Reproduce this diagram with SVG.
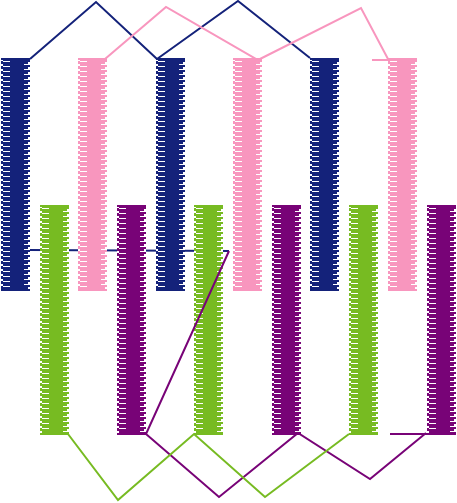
<svg xmlns="http://www.w3.org/2000/svg" width="457" height="503" viewBox="0 0 457 503">
<style>
.navy{fill:#14227a}.pink{fill:#f896be}.green{fill:#77bb22}.purple{fill:#780377}
.gl{stroke:#fff;stroke-width:7;stroke-dasharray:1 4}
.gr{stroke:#fff;stroke-width:6;stroke-dasharray:1 4;stroke-dashoffset:2}
.el{stroke:#fff;stroke-width:2;stroke-dasharray:2 3;stroke-dashoffset:1}
.er{stroke:#fff;stroke-width:2;stroke-dasharray:2 3;stroke-dashoffset:3}
.c{fill:none;stroke-width:2;stroke-linejoin:miter}
</style>
<defs>
<g id="gapsT">
<line class="gl" x1="5.5" y1="3" x2="5.5" y2="231"/>
<line class="gr" x1="26" y1="3" x2="26" y2="231"/>
<line class="el" x1="1" y1="2" x2="1" y2="231"/>
<line class="er" x1="28" y1="2" x2="28" y2="231"/>
</g>
<g id="gapsB">
<line class="gl" x1="5.5" y1="3" x2="5.5" y2="228"/>
<line class="gr" x1="26" y1="3" x2="26" y2="228"/>
<line class="el" x1="1" y1="2" x2="1" y2="228"/>
<line class="er" x1="28" y1="2" x2="28" y2="228"/>
</g>
</defs>
<g id="connectors-back">
<polyline class="c" stroke="#14227a" points="30,250 229,251"/>
</g>
<g id="coil-navy-1" transform="translate(1,58)"><rect class="navy" width="29" height="233"/><use href="#gapsT"/></g>
<g id="coil-pink-1" transform="translate(78,58)"><rect class="pink" width="29" height="233"/><use href="#gapsT"/></g>
<g id="coil-navy-2" transform="translate(156,58)"><rect class="navy" width="29" height="233"/><use href="#gapsT"/></g>
<g id="coil-pink-2" transform="translate(233,58)"><rect class="pink" width="29" height="233"/><use href="#gapsT"/></g>
<g id="coil-navy-3" transform="translate(310,58)"><rect class="navy" width="29" height="233"/><use href="#gapsT"/></g>
<g id="coil-pink-3" transform="translate(388,58)"><rect class="pink" width="29" height="233"/><use href="#gapsT"/></g>
<g id="coil-green-1" transform="translate(40,205)"><rect class="green" width="29" height="230"/><use href="#gapsB"/></g>
<g id="coil-purple-1" transform="translate(117,205)"><rect class="purple" width="29" height="230"/><use href="#gapsB"/></g>
<g id="coil-green-2" transform="translate(194,205)"><rect class="green" width="29" height="230"/><use href="#gapsB"/></g>
<g id="coil-purple-2" transform="translate(272,205)"><rect class="purple" width="29" height="230"/><use href="#gapsB"/></g>
<g id="coil-green-3" transform="translate(349,205)"><rect class="green" width="29" height="230"/><use href="#gapsB"/></g>
<g id="coil-purple-3" transform="translate(427,205)"><rect class="purple" width="29" height="230"/><use href="#gapsB"/></g>
<g id="connectors">
<polyline class="c" stroke="#14227a" points="30,59 96,2 157,59"/>
<polyline class="c" stroke="#14227a" points="157,59 238,1 310,58"/>
<polyline class="c" stroke="#f896be" points="105,59 166,7 258,60 361,8 388,59"/>
<line class="c" stroke="#f896be" x1="372" y1="60" x2="403" y2="60" stroke-width="3"/>
<polyline class="c" stroke="#780377" points="229,251 146,434 219,497 298,433 370,479 426,433"/>
<line class="c" stroke="#780377" x1="390" y1="434" x2="427" y2="434" stroke-width="3"/>
<polyline class="c" stroke="#77bb22" points="68,434 118,500 194,434 265,497 349,434"/>
</g>
</svg>
